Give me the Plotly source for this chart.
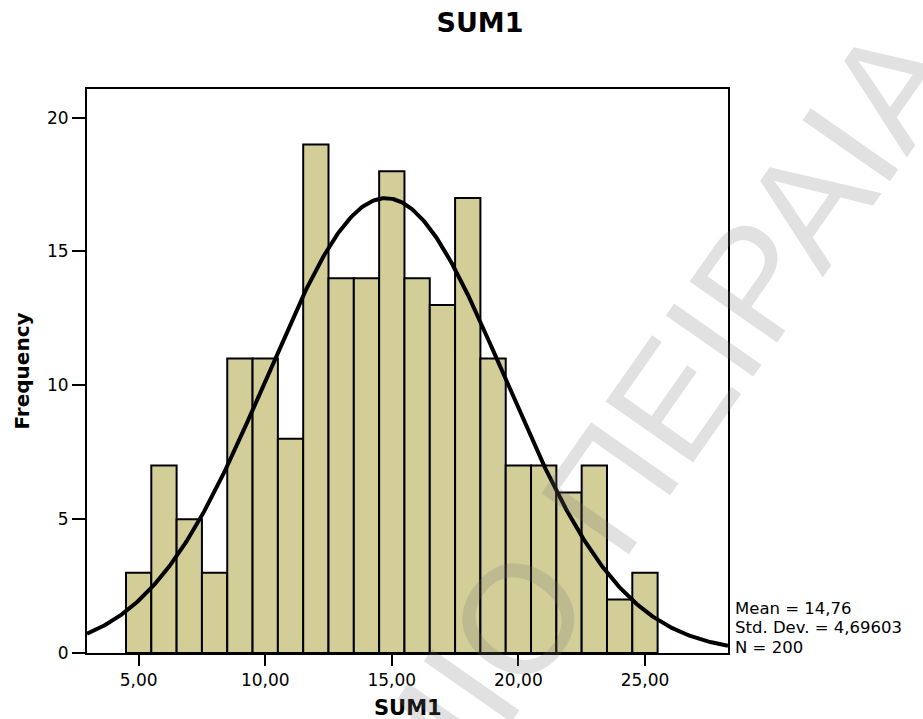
import numpy as np
import plotly.graph_objects as go

# ---- data ----
bin_centers = [5, 6, 7, 8, 9, 10, 11, 12, 13, 14, 15, 16, 17, 18, 19, 20, 21, 22, 23, 24, 25]
frequencies = [3, 7, 5, 3, 11, 11, 8, 19, 14, 14, 18, 14, 13, 17, 11, 7, 7, 6, 7, 2, 3]
x_ticks = [5, 10, 15, 20, 25]
y_ticks = [0, 5, 10, 15, 20]
stat_mean = 14.76
stat_sd = 4.69603
stat_n = 200
bin_width = 1.0
x_range = [2.96, 28.28]
y_range = [0, 21.07]
stats_text = ["Mean = 14,76", "Std. Dev. = 4,69603", "N = 200"]
watermark = "ΜΙΟ ΠΕΙΡΑΙΑ"

# fitted normal curve from the stated parameters
xc = np.linspace(x_range[0], x_range[1], 400)
yc = stat_n * bin_width / (stat_sd * np.sqrt(2 * np.pi)) * np.exp(-0.5 * ((xc - stat_mean) / stat_sd) ** 2)

W, H = 923, 719
L, R, T, B = 87, 728, 89, 653  # plot area in screen pixels


def px(x):
    return (x - L) / (R - L)


def py(y):
    return (B - y) / (B - T)


FONT = "DejaVu Sans"
fig = go.Figure()
fig.add_trace(go.Bar(
    x=bin_centers, y=frequencies, width=bin_width,
    marker=dict(color="#D3CE98", line=dict(color="black", width=2)),
    showlegend=False, hoverinfo="x+y",
))
fig.add_trace(go.Scatter(
    x=xc, y=yc, mode="lines", line=dict(color="black", width=4),
    showlegend=False, hoverinfo="skip",
))

fig.update_layout(
    width=W, height=H,
    margin=dict(l=L, r=W - R, t=T, b=H - B, autoexpand=False),
    paper_bgcolor="white", plot_bgcolor="white",
    separators=",.",
    font=dict(family=FONT, color="black", size=17),
    title=dict(text="SUM1", x=480 / W, xref="container", xanchor="center",
               y=1 - 23 / H, yref="container", yanchor="middle",
               font=dict(family=FONT, size=27, weight="bold", color="black")),
    xaxis=dict(range=x_range, tickvals=x_ticks, tickformat=".2f", automargin=False,
               showline=True, mirror=True, linecolor="black", linewidth=2,
               ticks="outside", ticklen=11, tickwidth=2, tickcolor="black",
               showgrid=False, zeroline=False,
               tickfont=dict(family=FONT, size=17)),
    yaxis=dict(range=y_range, tickvals=y_ticks, tickformat="d", automargin=False,
               showline=True, mirror=True, linecolor="black", linewidth=2,
               ticks="outside", ticklen=13, tickwidth=2, tickcolor="black",
               showgrid=False, zeroline=False,
               tickfont=dict(family=FONT, size=17),
               title=dict(text="Frequency", standoff=12,
                          font=dict(family=FONT, size=20, weight="bold"))),
)

# x-axis title placed at the reference position
fig.add_annotation(text="SUM1", xref="paper", yref="paper",
                   x=px(408), y=py(707.5), xanchor="center", yanchor="middle",
                   showarrow=False,
                   font=dict(family=FONT, size=21, weight="bold", color="black"))

stat_y_px = [608, 627.5, 647]
for txt, yy in zip(stats_text, stat_y_px):
    fig.add_annotation(text=txt, xref="paper", yref="paper",
                       x=px(733), y=py(yy),
                       xanchor="left", yanchor="middle", showarrow=False,
                       font=dict(family=FONT, size=16.5, color="black"))

fig.add_annotation(text=watermark, xref="paper", yref="paper",
                   x=px(654), y=py(426),
                   xanchor="center", yanchor="middle", showarrow=False,
                   textangle=-55,
                   font=dict(family="Liberation Sans", size=155, color="rgba(120,120,120,0.22)"))

fig.write_html("out.html",
               config={"displayModeBar": False},
               post_script="document.body.style.margin='0';document.body.style.overflow='hidden';")
